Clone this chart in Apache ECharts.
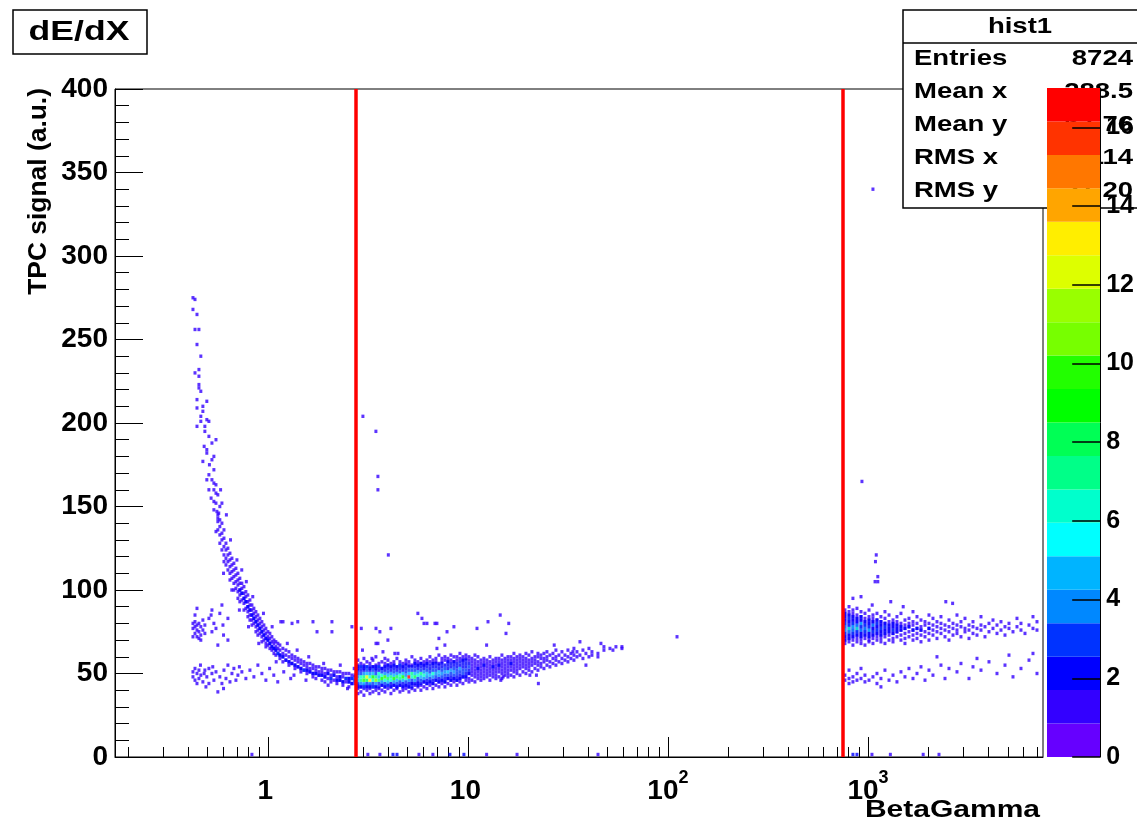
<!DOCTYPE html>
<html><head><meta charset="utf-8">
<script src="https://cdn.jsdelivr.net/npm/echarts@6/dist/echarts.min.js"></script>
<style>html,body{margin:0;padding:0;background:#fff}#c{width:1137px;height:825px}</style>
</head><body><div id="c"></div>
<script>
const FONT = '"Liberation Sans", Arial, Helvetica, sans-serif';
// ---- axes ----
const xRange = [0.172, 7500];
const yRange = [0, 400];
const zMax = 17;
const xMajorTicks = [1, 10, 100, 1000];
const xMinorTicks = [0.2,0.3,0.4,0.5,0.6,0.7,0.8,0.9,2,3,4,5,6,7,8,9,20,30,40,50,60,70,80,90,200,300,400,500,600,700,800,900,2000,3000,4000,5000,6000,7000];
const zTicks = [0,2,4,6,8,10,12,14,16];
const cutLines = [2.75, 750];
const statsTitle = 'hist1';
const statsRows = [['Entries','8724'],['Mean x','288.5'],['Mean y','67.76'],['RMS x','1114'],['RMS y','21.20']];
const paletteColors = ['#6600ff','#3300ff','#0000ff','#0033ff','#0088ff','#00b4ff','#00ffff','#00ffcc','#00ff88','#00ff55','#00ff00','#22ff00','#77ff00','#99ff00','#ddff00','#ffee00','#ffa500','#ff7700','#ff3300','#ff0000'];

// ---- data: [x, y] points (count 1) ----
const protonTop = [[0.422,275],[0.432,274],[0.422,268],[0.442,265],[0.432,256],[0.452,256],[0.442,247],[0.462,240],[0.452,232],[0.432,230],[0.452,228],[0.452,223],[0.452,221],[0.462,219],[0.442,214],[0.495,213],[0.442,209],[0.473,210],[0.473,207],[0.462,204],[0.462,201],[0.495,202],[0.507,201],[0.442,198],[0.484,198],[0.484,195],[0.507,192],[0.550,190],[0.525,188],[0.495,184],[0.495,182],[0.537,180],[0.525,178],[0.473,177],[0.537,172],[0.507,169],[0.495,166],[0.525,166],[0.537,164],[0.550,163],[0.507,160],[0.537,160],[0.550,158],[0.562,157],[0.537,153],[0.550,152],[0.589,152],[0.575,150],[0.556,147],[0.568,146],[0.562,143],[0.537,148],[0.520,155],[0.510,175],[0.480,186]];
// columns: [x, [y...]]
const protonCurve = [
[0.562,[145,141,136]],[0.575,[142,138,133,128]],[0.589,[140,134,130,124]],[0.603,[136,131,126,121,117]],
[0.617,[128,124,119,115]],[0.631,[125,121,117,112]],[0.646,[122,118,114,110,106]],[0.661,[119,115,111,107]],
[0.676,[116,112,108,104,100]],[0.692,[113,109,105,101]],[0.708,[110,106,103,99,95]],[0.724,[107,104,100,97,93]],
[0.741,[104,101,98,94]],[0.759,[102,98,95,92,88]],[0.776,[99,96,93,89]],[0.794,[97,93,90,87,84]],
[0.813,[94,91,88,85,82]],[0.832,[91,88,85,82,79]],[0.851,[89,86,83,80]],[0.871,[87,84,81,78,75]],
[0.891,[85,82,79,76,73]],[0.912,[83,80,77,74]],[0.933,[81,78,75,72,69]],[0.955,[79,76,73,70]],
[0.977,[77,74,71,68,66]],[1.000,[75,72,70,67]],[1.023,[74,71,68,65]],[1.047,[72,69,66,64]],
[1.072,[70,68,65,62]],[1.096,[69,66,64,61]],[1.122,[68,65,62]],[1.148,[67,64,61,59]],
[1.188,[65,62,60,57]],[1.230,[64,61,58]],[1.274,[63,60,57,55]],[1.318,[61,59,56]],
[1.365,[60,58,55,53]],[1.413,[59,57,54]],[1.462,[58,56,53,51]],[1.514,[57,55,52]],
[1.567,[56,54,52,50]],[1.622,[56,53,51]],[1.679,[55,53,50,48]],[1.738,[54,52,50,47]],
[1.799,[54,51,49]],[1.862,[53,51,49,46]],[1.928,[53,50,48,45]],[1.995,[52,50,47]],
[2.065,[52,49,47,45]],[2.138,[51,49,46]],[2.213,[51,48,46,44]],[2.291,[51,48,46]],
[2.371,[50,48,45,43]],[2.455,[50,47,45]],[2.541,[50,47,45,42]],[2.630,[49,47,44]],[2.723,[49,46,44]]
];
const curveScatter = [[0.65,130],[0.70,118],[0.74,112],[0.60,110],[0.66,100],[0.78,105],[0.72,88],[0.84,96],[0.80,78],[0.95,86],[0.90,68],[1.05,78],[1.10,57],[1.25,68],[1.40,64],[1.35,49],[1.60,60],[1.55,46],[1.90,56],[2.00,43],[2.30,55],[2.50,41],[2.70,53],[0.58,160],[0.62,145],[0.55,135]];
const leftUpper = [[0.422,80],[0.422,77],[0.432,81],[0.432,78],[0.432,74],[0.442,79],[0.442,76],[0.442,72],[0.452,80],[0.452,75],[0.452,71],[0.462,78],[0.462,73],[0.473,76],[0.473,82],[0.484,74],[0.484,79],[0.432,85],[0.442,89],[0.462,70],[0.422,72],
[0.525,88],[0.520,85],[0.507,83],[0.537,80],[0.525,75],[0.589,91],[0.575,86],[0.562,67],[0.631,83],[0.596,79],[0.631,70],[0.550,77],[0.600,73],
[1.16,81],[1.19,81],[1.32,80],[1.41,81],[1.68,81],[1.76,75],[2.09,81],[2.09,75],[2.63,78],[2.93,77],[3.47,77],[3.63,75],[4.12,77],[3.55,68],[3.47,68],[3.98,70],[2.97,64],[3.31,59],[3.76,63],[4.31,62],[4.47,62],
[5.62,86],[5.89,83],[6.03,80],[6.24,80],[6.84,80],[7.00,80],[8.51,78],[7.86,75],[7.16,71],[11.1,77],[12.6,81],[14.5,85],[16.0,80],[15.5,74],[12.4,67],[7.67,67],[7.00,65]];
const leftLower = [[0.422,51],[0.422,48],[0.432,53],[0.432,46],[0.442,50],[0.442,44],[0.452,52],[0.452,47],[0.462,49],[0.473,45],[0.484,52],[0.495,48],[0.507,53],[0.507,44],[0.525,50],[0.537,46],[0.550,51],[0.562,39],[0.575,48],[0.589,44],[0.603,52],[0.617,47],[0.631,55],[0.646,45],[0.661,50],[0.676,53],[0.692,46],[0.708,49],[0.741,51],[0.776,47],[0.813,52],[0.851,48],[0.891,55],[0.933,50],[0.977,46],[1.02,53],[1.07,49],[1.12,45],[1.20,51],[1.30,47],[0.460,55],[0.490,42],[0.600,41],[0.720,54],[0.480,50],[0.530,54]];
const mainBand = [
[2.818,[38,41,43,53,55,58]],[2.917,[39,42,54,56]],[3.020,[37,41,43,53,55,59]],[3.126,[40,42,54,57]],
[3.236,[38,41,43,53,56]],[3.350,[39,42,54,58]],[3.467,[40,42,53,55,60]],[3.589,[38,41,54,56]],
[3.715,[40,43,53,57]],[3.846,[39,42,54,56,59]],[3.981,[41,43,55,58]],[4.121,[38,42,54,56]],
[4.266,[40,43,55,57]],[4.416,[41,42,54,59]],[4.571,[39,43,55,57]],[4.732,[40,42,54,56]],
[4.898,[41,43,56,58]],[5.070,[39,42,55,57]],[5.248,[41,44,55,60]],[5.433,[40,43,56,58]],
[5.623,[42,44,55,57]],[5.821,[40,43,56,59]],[6.026,[42,45,55,57]],[6.237,[41,44,56,58]],
[6.457,[43,45,57,60]],[6.683,[41,44,56,58]],[6.918,[43,46,57,59]],[7.161,[42,45,56,61]],
[7.413,[44,46,57,59]],[7.674,[42,45,58,60]],[7.943,[44,47,57,59]],[8.222,[43,46,58,61]],
[8.511,[45,47,57,60]],[8.810,[43,46,58,60]],[9.120,[45,47,59,62]],[9.441,[44,48,58,60]],
[9.772,[46,48,59,61]],[10.12,[45,47,50,58,60]],
[10.47,[46,49,51,53,55,57,59]],[10.84,[45,48,50,52,54,56,58,61]],[11.22,[47,49,51,53,55,57,60]],[11.61,[46,48,50,52,54,56,58]],
[12.02,[47,49,51,53,55,57,59]],[12.45,[48,50,52,54,56,58]],[12.88,[46,49,51,53,55,57,60]],[13.34,[48,50,52,54,56,58]],
[13.80,[47,49,51,53,55,57,59]],[14.29,[48,51,53,55,57,59]],[14.79,[47,50,52,54,56,58,61]],[15.31,[49,51,53,55,57,59]],
[15.85,[48,50,52,54,56,58,60]],[16.41,[49,52,54,56,58,60]],[16.98,[48,51,53,55,57,59,62]],[17.58,[50,52,54,56,58,60]],
[18.20,[49,53,55,57,59,61]],[18.84,[51,54,56,58,60]],[19.50,[50,53,55,57,59,62]],[20.18,[52,54,56,58,61]],
[20.89,[51,55,57,59,63]],[21.63,[53,56,58,60]],[22.39,[52,55,57,60,62]],[23.17,[54,56,59,61]],
[23.99,[53,57,59,62]],[24.83,[55,58,60,63]],[25.70,[54,57,61]],[26.61,[56,59,62]],
[27.54,[55,58,60,64]],[28.51,[57,61]],[29.51,[56,59,63]],[30.55,[58,61]],
[31.62,[57,60,64]],[32.73,[59,62]],[33.88,[58,61,65]],[35.08,[60,63]],
[36.31,[61,69]],[37.58,[59,64]],[38.90,[62,55]],[40.27,[60,65]],[41.69,[63,61]],[44.67,[62,60]],
[46.24,[68]],[47.86,[64,66]],[51.29,[65]],[53.09,[64]],[54.95,[66]],[58.88,[65,66]],
[33.5,[63]],[27.0,[67]],[22.5,[44]],[20.4,[49]],[22.0,[49]],[14.6,[46]],[15.0,[48]]
];
const rightUpper = [
[767,[68,70,72,74,76,78,80,82,84,86,88]],[804,[69,71,73,75,77,79,81,83,85,87,90]],[841,[67,70,72,74,76,78,80,82,84,86,88]],
[881,[69,71,73,75,77,79,81,83,85,89]],[923,[68,70,72,74,76,78,80,82,84,87]],[966,[67,71,73,75,77,79,81,83,86]],
[1012,[69,70,72,74,76,78,80,82,84,88]],[1059,[68,71,73,75,77,79,81,83,85]],[1109,[70,72,74,76,78,80,82,86]],
[1161,[69,71,73,75,77,79,81,84]],[1216,[68,72,74,76,78,80,83,87]],[1274,[70,73,75,77,79,81,85]],
[1334,[69,71,74,76,78,80,82]],[1396,[72,75,77,79,81,84]],[1462,[70,73,76,78,80,86]],[1531,[68,71,74,77,79,82]],
[1603,[72,75,78,80,83]],[1679,[70,73,76,79,81,87]],[1758,[71,74,77,80,84]],[1841,[69,73,76,78,82]],
[1928,[72,75,79,81]],[2018,[70,74,77,80,85]],[2113,[73,76,79,83]],[2213,[71,75,78,81]],
[2317,[74,77,80,84]],[2427,[72,76,79]],[2541,[70,75,78,82]],[2661,[73,77,80]],
[2786,[74,76,79,85]],[2917,[72,78,81]],[3055,[75,77,83]],[3199,[71,76,79]],
[3350,[74,78,81]],[3508,[73,77]],[3673,[76,79,84]],[3846,[72,78]],
[4027,[75,80]],[4217,[77,82]],[4416,[74,79]],[4624,[76,81]],[4842,[73,78]],[5070,[77,80]],
[5309,[75]],[5559,[78,83]],[5821,[76,80]],[6095,[74]],[6383,[79]],[6683,[77,84]],[6998,[81,76]]
];
const rightLower = [[767,46],[767,49],[804,44],[804,47],[841,48],[841,45],[881,46],[881,50],[923,47],[966,45],[966,49],[1012,46],[1059,48],[1109,44],[1109,50],[1161,47],[1216,52],[1274,46],[1334,49],[1396,45],[1462,51],[1531,48],[1603,53],[1679,47],[1758,50],[1841,54],[1928,46],[2018,52],[2113,49],[2317,55],[2427,47],[2541,53],[2786,51],[2917,56],[3199,47],[3350,54],[3673,52],[4027,57],[4416,50],[4842,55],[5309,48],[5821,53],[6383,58],[6998,50],[2213,60],[3508,59],[5070,61],[6683,62],[1161,42],[804,52],[923,53]];
const outliers = [[2.985,204],[3.467,195],[3.548,168],[3.548,160],[4.0,121],[111,72],[933,165],[1059,340],[1100,121],[1090,117],[1120,108],[1120,105],[1085,105],[841,95],[923,96],[1300,93],[2450,93],[2650,92],[1050,91],[1500,90]];
// cells with more than one entry: [x, y, count]
const curveDense = [[0.724,100,2],[0.741,98,2],[0.776,93,2],[0.813,88,2],[0.851,83,2],[0.871,81,2],[0.912,77,2],[0.955,73,2],[1.023,68,2],[1.072,65,2],[1.122,62,3],[1.188,60,2],[1.274,57,2],[1.318,56,2],[1.365,55,2],[1.413,54,2],[1.462,53,2],[1.514,52,3],[1.567,52,2],[1.622,51,2],[1.679,50,2],[1.738,50,2],[1.799,49,2],[1.862,49,2],[1.928,48,2],[2.065,47,3],[2.291,46,2],[2.371,45,2],[2.541,47,2],[2.630,44,2],
[0.759,95,2],[0.794,90,2],[0.832,85,2],[0.891,79,2],[0.933,75,2],[0.977,71,2],[1.0,70,2],[1.047,66,2],[1.096,64,2],[1.148,61,2],[1.230,58,2],
[1.995,50,2],[2.138,49,2],[2.213,46,2],[2.291,48,2],[2.455,47,3],[2.541,45,2],[2.630,47,3],[2.723,46,3],[2.723,48,2]];
const bandEdge = [[2.818,42,2],[2.818,54,2],[2.917,42,2],[2.917,54,3],[3.020,42,3],[3.020,54,2],[3.126,42,2],[3.126,54,3],[3.236,42,2],[3.236,54,2],[3.350,42,3],[3.350,54,2],[3.467,42,2],[3.467,54,2],[3.589,42,2],[3.589,54,3],[3.715,43,2],[3.715,53,2],[3.846,42,2],[3.846,54,2],[3.981,43,3],[3.981,55,2],[4.121,42,2],[4.121,54,2],[4.266,43,2],[4.266,55,2],[4.416,42,2],[4.416,54,2],[4.571,43,2],[4.571,55,3],[4.732,42,2],[4.732,54,2],[4.898,43,2],[4.898,55,2],[5.070,42,2],[5.070,54,2],[5.248,42,2],[5.248,54,2],[5.433,44,2],[5.433,56,2],[5.623,43,2],[5.623,55,2],[5.821,44,2],[5.821,56,2],[6.026,45,2],[6.026,55,2],[6.237,44,2],[6.237,56,2],[6.457,45,2],[6.683,44,2],[6.683,56,2],[6.918,46,2],[6.918,56,2],[7.161,45,2],[7.161,55,2],[7.413,46,2],[7.413,56,2],[7.674,45,2],[7.943,47,2],[7.943,57,2],[8.222,46,2],[8.511,47,2],[8.511,57,2],[8.810,46,2],[9.120,47,2],[9.441,48,2],[9.441,58,2],[9.772,48,2],[9.772,58,2],[10.12,50,2]];
const bandCore = [
[2.818,44,3],[2.818,46,5],[2.818,48,4],[2.818,50,3],[2.818,52,2],
[2.917,44,4],[2.917,46,7],[2.917,48,6],[2.917,50,3],[2.917,52,2],
[3.020,44,5],[3.020,46,10],[3.020,48,7],[3.020,50,4],[3.020,52,2],
[3.126,44,3],[3.126,46,8],[3.126,48,12],[3.126,50,5],[3.126,52,3],
[3.236,44,4],[3.236,46,13],[3.236,48,6],[3.236,50,4],[3.236,52,2],
[3.350,44,3],[3.350,46,6],[3.350,48,9],[3.350,50,5],[3.350,52,3],
[3.467,44,4],[3.467,46,11],[3.467,48,7],[3.467,50,3],[3.467,52,2],
[3.589,44,3],[3.589,46,7],[3.589,48,5],[3.589,50,6],[3.589,52,2],
[3.715,45,4],[3.715,47,9],[3.715,49,6],[3.715,51,3],
[3.846,44,3],[3.846,46,6],[3.846,48,10],[3.846,50,4],[3.846,52,2],
[3.981,45,5],[3.981,47,8],[3.981,49,5],[3.981,51,3],[3.981,53,2],
[4.121,44,2],[4.121,46,6],[4.121,48,7],[4.121,50,4],[4.121,52,2],
[4.266,45,4],[4.266,47,9],[4.266,49,5],[4.266,51,3],[4.266,53,2],
[4.416,44,3],[4.416,46,5],[4.416,48,8],[4.416,50,4],[4.416,52,2],
[4.571,45,3],[4.571,47,7],[4.571,49,6],[4.571,51,3],[4.571,53,2],
[4.732,44,2],[4.732,46,5],[4.732,48,9],[4.732,50,5],[4.732,52,2],
[4.898,45,3],[4.898,47,6],[4.898,49,4],[4.898,51,3],[4.898,53,2],
[5.070,44,2],[5.070,46,4],[5.070,48,17],[5.070,50,5],[5.070,52,3],
[5.248,44,2],[5.248,46,3],[5.248,48,6],[5.248,50,7],[5.248,52,3],
[5.433,46,4],[5.433,48,8],[5.433,50,5],[5.433,52,3],[5.433,54,2],
[5.623,45,2],[5.623,47,3],[5.623,49,6],[5.623,51,4],[5.623,53,2],
[5.821,46,3],[5.821,48,5],[5.821,50,7],[5.821,52,3],[5.821,54,2],
[6.026,47,4],[6.026,49,6],[6.026,51,4],[6.026,53,2],
[6.237,46,2],[6.237,48,4],[6.237,50,5],[6.237,52,3],[6.237,54,2],
[6.457,47,3],[6.457,49,5],[6.457,51,3],[6.457,53,2],[6.457,55,2],
[6.683,46,2],[6.683,48,4],[6.683,50,6],[6.683,52,3],[6.683,54,2],
[6.918,48,3],[6.918,50,4],[6.918,52,3],[6.918,54,2],
[7.161,47,2],[7.161,49,4],[7.161,51,5],[7.161,53,2],
[7.413,48,3],[7.413,50,4],[7.413,52,3],[7.413,54,2],
[7.674,47,2],[7.674,49,3],[7.674,51,4],[7.674,53,3],[7.674,55,2],
[7.943,49,3],[7.943,51,5],[7.943,53,2],[7.943,55,2],
[8.222,48,2],[8.222,50,3],[8.222,52,4],[8.222,54,2],[8.222,56,2],
[8.511,49,3],[8.511,51,4],[8.511,53,3],[8.511,55,2],
[8.810,48,2],[8.810,50,3],[8.810,52,3],[8.810,54,2],[8.810,56,2],
[9.120,49,2],[9.120,51,3],[9.120,53,4],[9.120,55,2],[9.120,57,2],
[9.441,50,3],[9.441,52,3],[9.441,54,2],[9.441,56,2],
[9.772,50,2],[9.772,52,3],[9.772,54,2],[9.772,56,2],
[10.12,52,2],[10.12,54,3],[10.12,56,2],[11.22,53,2],[12.02,55,2],[13.34,54,2],[14.29,55,2],[16.41,56,2]];
const rightDense = [
[767,74,3],[767,76,5],[767,78,4],[767,80,3],[767,82,2],[767,70,2],[767,72,2],[767,84,2],[767,86,2],
[804,73,2],[804,75,4],[804,77,6],[804,79,3],[804,81,2],[804,71,2],[804,83,3],[804,85,2],
[841,74,3],[841,76,4],[841,78,5],[841,80,3],[841,72,2],[841,82,2],[841,84,2],
[881,75,3],[881,77,6],[881,79,4],[881,81,2],[881,73,2],[881,83,2],
[923,74,2],[923,76,4],[923,78,3],[923,80,5],[923,82,2],[923,72,2],[923,84,2],
[966,75,3],[966,77,4],[966,79,3],[966,73,2],[966,81,2],
[1012,74,2],[1012,76,5],[1012,78,3],[1012,80,2],[1012,72,2],[1012,82,2],
[1059,75,3],[1059,77,2],[1059,79,4],[1059,73,2],[1059,81,2],
[1109,76,3],[1109,78,2],[1109,80,3],[1109,74,2],[1109,82,2],
[1161,75,2],[1161,77,3],[1161,79,2],[1161,73,2],[1161,81,2],
[1216,76,2],[1216,78,3],[1216,74,2],[1216,80,2],[1274,77,2],[1274,79,2],[1274,75,2],[1334,76,3],[1334,78,2],[1334,74,2],[1334,80,2],
[1396,77,2],[1396,75,2],[1396,79,2],[1462,76,2],[1462,78,2],[1531,77,2],[1603,78,2],[1679,76,2],[1758,77,2],[1841,76,2],[2018,77,2]];
const bottomRow = [[0.832,1.5,1],[3.16,1.5,1],[3.63,1.5,1],[4.22,1.5,2],[4.42,1.5,2],[5.69,1.5,1],[6.68,1.5,1],[8.13,1.5,2],[9.55,1.5,2],[12.4,1.5,1],[17.6,1.5,1],[44.7,1.5,1],[841,1.5,2],[881,1.5,2],[1047,1.5,1],[1294,1.5,1],[1888,1.5,1],[2265,1.5,1]];

// ---- build ----
function fromCols(cols){const o=[];cols.forEach(c=>c[1].forEach(y=>o.push([c[0],y,1])));return o;}
function fromPts(p){return p.map(d=>[d[0],d[1],d.length>2?d[2]:1]);}
const onesData = [].concat(fromPts(protonTop),fromCols(protonCurve),fromPts(curveScatter),fromPts(leftUpper),fromPts(leftLower),fromCols(mainBand),fromCols(rightUpper),fromPts(rightLower),fromPts(outliers));
const hotData = [].concat(fromPts(curveDense),fromPts(bandEdge),fromPts(bandCore),fromPts(rightDense),fromPts(bottomRow));

const band = zMax/20;
const pieces = paletteColors.map((c,i)=> i<19 ? {gte:i*band, lt:(i+1)*band, color:c} : {gte:i*band, lte:zMax+0.01, color:c});

const txt = (o)=>Object.assign({fontFamily:FONT,fontWeight:'bold',fill:'#000'},o);
const chart = echarts.init(document.getElementById('c'), null, {renderer:'canvas'});
const cellSize=[3,3.4];
const barSeries = paletteColors.map((c,i)=>({type:'bar',stack:'pal',xAxisIndex:2,yAxisIndex:1,data:[band],barWidth:'100%',itemStyle:{color:c},silent:true,z:2}));

chart.setOption({
  animation:false,
  backgroundColor:'#fff',
  grid:[
    {left:115,right:94,top:89,bottom:68,show:true,borderColor:'#000',borderWidth:1,backgroundColor:'transparent'},
    {left:1047,width:54,top:88,bottom:68,show:false}
  ],
  xAxis:[
    {type:'log',gridIndex:0,min:xRange[0],max:xRange[1],position:'bottom',
     axisLine:{show:true,lineStyle:{color:'#000',width:1}},
     axisTick:{show:true,inside:true,length:20,customValues:xMajorTicks,lineStyle:{color:'#000',width:1}},
     axisLabel:{show:true,customValues:xMajorTicks,margin:12,
       formatter:(v)=>{const e=Math.round(Math.log10(v)); if(e===0) return '{b|1}{s| }'; if(e===1) return '{b|10}{s| }'; return '{b|10}{s|'+e+'}';},
       rich:{b:{fontSize:28,fontWeight:'bold',fontFamily:FONT,color:'#000',verticalAlign:'bottom'},
             s:{fontSize:18,fontWeight:'bold',fontFamily:FONT,color:'#000',verticalAlign:'bottom',padding:[0,0,18,0]}}},
     splitLine:{show:false}},
    {type:'log',gridIndex:0,min:xRange[0],max:xRange[1],position:'bottom',
     axisLine:{show:false},
     axisTick:{show:true,inside:true,length:10,customValues:xMinorTicks,lineStyle:{color:'#000',width:1}},
     axisLabel:{show:false},splitLine:{show:false}},
    {type:'category',gridIndex:1,data:['z'],show:false,boundaryGap:true}
  ],
  yAxis:[
    {type:'value',gridIndex:0,min:yRange[0],max:yRange[1],interval:50,
     axisLine:{show:true,lineStyle:{color:'#000',width:1}},
     axisTick:{show:true,inside:true,length:28,lineStyle:{color:'#000'}},
     minorTick:{show:true,splitNumber:5,length:14,lineStyle:{color:'#000'}},
     axisLabel:{fontSize:28,fontWeight:'bold',fontFamily:FONT,color:'#000',margin:7},
     splitLine:{show:false}},
    {type:'value',gridIndex:1,min:0,max:zMax,position:'right',z:5,
     axisLine:{show:true,lineStyle:{color:'#000',width:1}},
     axisTick:{show:true,inside:true,length:28,customValues:zTicks,lineStyle:{color:'#000',width:1.5}},
     axisLabel:{customValues:zTicks,fontSize:25,fontWeight:'bold',fontFamily:FONT,color:'#000',margin:6},
     splitLine:{show:false}}
  ],
  visualMap:{type:'piecewise',show:false,dimension:2,seriesIndex:[0,1],pieces:pieces},
  series:[
    {type:'scatter',xAxisIndex:0,yAxisIndex:0,symbol:'rect',symbolSize:cellSize,data:onesData,silent:true,z:3,
     markLine:{silent:true,symbol:['none','none'],label:{show:false},lineStyle:{color:'#ff0000',width:3.5,type:'solid'},
       data:cutLines.map(v=>({xAxis:v})),z:4}},
    {type:'scatter',xAxisIndex:0,yAxisIndex:0,symbol:'rect',symbolSize:cellSize,data:hotData,silent:true,z:3}
  ].concat(barSeries),
  graphic:[
    {type:'group',z:1,children:[
      {type:'rect',shape:{x:13,y:10,width:134,height:44},style:{fill:'#fff',stroke:'#000',lineWidth:1.5}},
      {type:'text',x:79,y:32,scaleX:1.27,style:txt({text:'dE/dX',fontSize:28,textAlign:'center',textVerticalAlign:'middle'})},
      {type:'text',x:39,y:88,rotation:Math.PI/2,scaleX:1.1,scaleY:1.1,style:txt({text:'TPC signal (a.u.)',fontSize:24,textAlign:'right',textVerticalAlign:'middle'})},
      {type:'text',x:1040,y:810,scaleX:1.25,style:txt({text:'BetaGamma',fontSize:24,textAlign:'right',textVerticalAlign:'middle'})},
      {type:'rect',shape:{x:903,y:10,width:245,height:198},style:{fill:'#fff',stroke:'#000',lineWidth:1.5}},
      {type:'line',shape:{x1:903,y1:43,x2:1145,y2:43},style:{stroke:'#000',lineWidth:1.5}},
      {type:'text',x:1020,y:27,scaleX:1.25,style:txt({text:statsTitle,fontSize:22,textAlign:'center',textVerticalAlign:'middle'})}
    ].concat(...statsRows.map((r,i)=>[
      {type:'text',x:914,y:59+i*33,scaleX:1.25,style:txt({text:r[0],fontSize:22,textAlign:'left',textVerticalAlign:'middle'})},
      {type:'text',x:1133,y:59+i*33,scaleX:1.25,style:txt({text:r[1],fontSize:22,textAlign:'right',textVerticalAlign:'middle'})}
    ]))}
  ]
});
</script></body></html>
